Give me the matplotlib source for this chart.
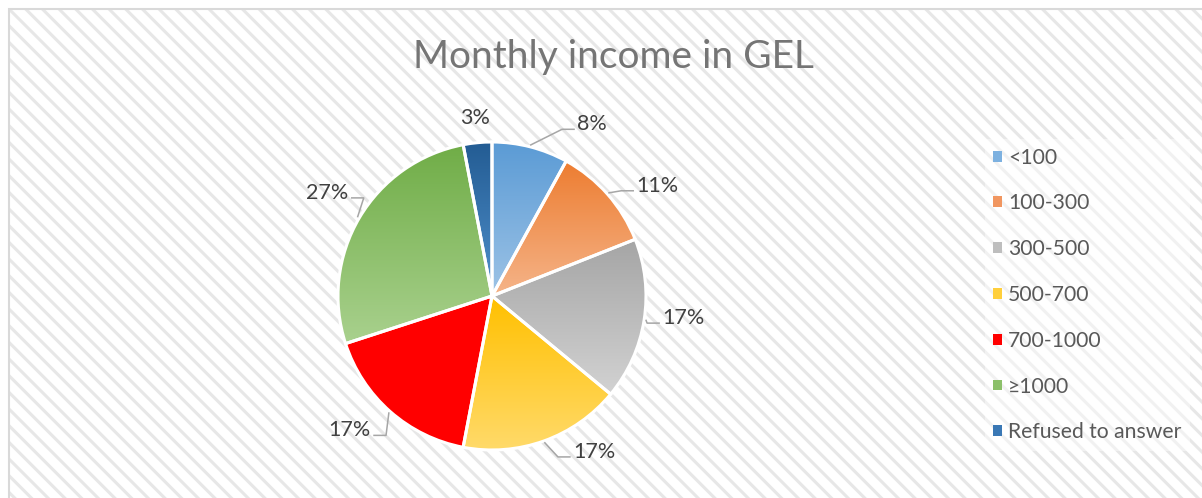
import numpy as np
import matplotlib
matplotlib.use('Agg')
import matplotlib.pyplot as plt
from matplotlib.patches import Rectangle, Patch
from matplotlib.colors import to_rgb

# data
categories = ['<100', '100-300', '300-500', '500-700', '700-1000', '\u22651000', 'Refused to answer']
shares = [8, 11, 17, 17, 17, 27, 3]
top_colors = ['#5B9BD5', '#ED7D31', '#A5A5A5', '#FFC000', '#FF0000', '#70AD47', '#235C93']
bottom_colors = ['#9DC3E6', '#F5B489', '#D2D2D2', '#FFDA6A', '#FF0000', '#A9D18E', '#5090CC']
legend_colors = ['#7DB1E0', '#F19660', '#BEBEBE', '#FFCF3C', '#FF0000', '#8CC06A', '#3A78B5']

# label layout: (angle nudge in degrees, radius factor)
label_nudge = [(-15.8, 1.29), (-7.7, 1.29), (2.4, 1.25), (13.4, 1.21), (-5.2, 1.27), (-1.5, 1.26), (0, 1.16)]

plt.rcParams['font.family'] = ['Lato', 'DejaVu Sans']
plt.rcParams['hatch.linewidth'] = 2.2

W, H = 1202, 498
fig = plt.figure(figsize=(W / 100, H / 100), dpi=100)
ax = fig.add_axes([0, 0, 1, 1])

# striped chart background + frame
ax.add_patch(Rectangle((9, -10), W, H - 9 + 10, facecolor='white', edgecolor='#e7e7e7',
                       hatch='\\' * 2, linewidth=0, zorder=0))
ax.add_patch(Rectangle((9, -10), W, H - 9 + 10, facecolor='none', edgecolor='#d9d9d9',
                       linewidth=1.5, zorder=0.5))

cx, cy, R = 492, 202, 154
wedges, _ = ax.pie(shares, startangle=90, counterclock=False, center=(cx, cy), radius=R,
                   wedgeprops=dict(edgecolor='white', linewidth=2.2))

# vertical gradient inside each slice
for w, c0, c1 in zip(wedges, top_colors, bottom_colors):
  ext = w.get_path().get_extents()
  g = np.linspace(0, 1, 256)[:, None]
  img = (1 - g) * np.array(to_rgb(c0)) + g * np.array(to_rgb(c1))
  im = ax.imshow(img[:, None, :], extent=(ext.x0, ext.x1, ext.y0, ext.y1), origin='upper',
                 aspect='auto', interpolation='bilinear', zorder=1)
  im.set_clip_path(w)
  w.set_facecolor('none')
  w.set_zorder(2)

ax.set_xlim(0, W)
ax.set_ylim(0, H)
ax.axis('off')

fig.canvas.draw()
renderer = fig.canvas.get_renderer()

# percentage labels with leader lines
cum = 0
for val, (da, rf) in zip(shares, label_nudge):
  mid = np.deg2rad(90 - 360.0 * (cum + val / 2.0) / sum(shares))
  cum += val
  lab = mid + np.deg2rad(da)
  lx, ly = cx + rf * R * np.cos(lab), cy + rf * R * np.sin(lab)
  t = ax.text(lx, ly, '%d%%' % val, ha='center', va='center', fontsize=15.5, color='#404040', zorder=5)
  if rf < 1.2:
    continue
  bb = t.get_window_extent(renderer)
  sx, sy = cx + (R + 2) * np.cos(mid), cy + (R + 2) * np.sin(mid)
  if lx > sx:
    ex = bb.x0 - 3
    elx = ex - 12
  else:
    ex = bb.x1 + 3
    elx = ex + 12
  ey = ly - 5
  ax.plot([sx, elx, ex], [sy, ey, ey], color='#a6a6a6', linewidth=1.1, zorder=4)

ax.text(613, 441, 'Monthly income in GEL', ha='center', va='center', fontsize=28, color='#757575')

handles = [Patch(facecolor=c, edgecolor='none') for c in legend_colors]
leg = ax.legend(handles, categories, loc='center left', bbox_to_anchor=(974, 203),
                bbox_transform=ax.transData, fontsize=15.2, handlelength=0.42, handleheight=0.42,
                handletextpad=0.3, labelspacing=1.22, frameon=True, fancybox=False,
                framealpha=0.45, facecolor='white', edgecolor='none', borderpad=0.4)
for txt in leg.get_texts():
  txt.set_color('#595959')

fig.savefig('out.png', dpi=100)
